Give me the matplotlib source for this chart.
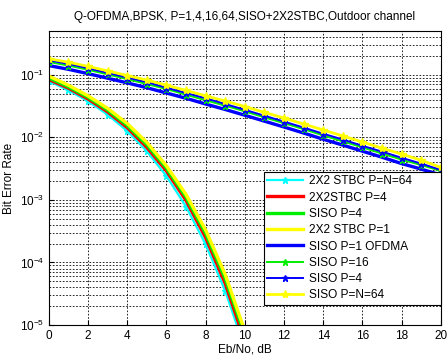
import matplotlib
matplotlib.use('Agg')
import matplotlib.pyplot as plt

plt.rcParams['font.family'] = ['Liberation Sans', 'DejaVu Sans']

# Eb/No axes
snr_low = [0, 1, 2, 3, 4, 5, 6, 7, 8, 9, 10]
snr_high = list(range(0, 21))

# lower group (2x2 STBC and friends)
stbc_p64 = [0.079, 0.0565, 0.0377, 0.0230, 0.0126, 0.0060, 0.00240, 0.00078, 0.000195, 3.5e-5, 4.2e-6]
stbc_p4 = [0.084, 0.061, 0.041, 0.0255, 0.0143, 0.0069, 0.0029, 0.00098, 0.00025, 4.6e-5, 5.5e-6]
siso_p4_thick = [0.089, 0.064, 0.0435, 0.0272, 0.0154, 0.0076, 0.0032, 0.00110, 0.00029, 5.5e-5, 6.8e-6]
stbc_p1 = [0.095, 0.068, 0.046, 0.029, 0.0166, 0.0083, 0.0035, 0.00122, 0.00033, 6.4e-5, 8.0e-6]

# upper group (SISO)
siso_p1_ofdma = [0.140, 0.122, 0.104, 0.088, 0.074, 0.062, 0.051, 0.042, 0.034, 0.0278, 0.0225,
                 0.0181, 0.0146, 0.0117, 0.0093, 0.0075, 0.0060, 0.0048, 0.0038, 0.0031, 0.0025]
siso_p16 = [0.160, 0.140, 0.120, 0.101, 0.085, 0.071, 0.059, 0.048, 0.039, 0.032, 0.026,
            0.0208, 0.0168, 0.0135, 0.0107, 0.0086, 0.0069, 0.0055, 0.0044, 0.0036, 0.0029]
siso_p4 = [0.170, 0.149, 0.127, 0.107, 0.090, 0.076, 0.062, 0.051, 0.042, 0.034, 0.0275,
           0.0221, 0.0178, 0.0143, 0.0114, 0.0092, 0.0073, 0.0059, 0.0047, 0.0038, 0.0030]
siso_p64 = [0.180, 0.158, 0.136, 0.115, 0.097, 0.082, 0.068, 0.056, 0.046, 0.038, 0.031,
            0.025, 0.0203, 0.0163, 0.0131, 0.0105, 0.0084, 0.0067, 0.0054, 0.0043, 0.0033]

fig = plt.figure(figsize=(4.48, 3.56), dpi=100)
ax = fig.add_axes([0.109, 0.087, 0.875, 0.826])

ax.semilogy(snr_low, stbc_p64, color='cyan', lw=1.6, marker='*', ms=5, label='2X2 STBC P=N=64')
ax.semilogy(snr_low, stbc_p4, color='red', lw=2.4, label='2X2STBC P=4')
ax.semilogy(snr_low, siso_p4_thick, color='#00ee00', lw=2.4, label='SISO P=4')
ax.semilogy(snr_low, stbc_p1, color='yellow', lw=2.4, label='2X2 STBC P=1')
ax.semilogy(snr_high, siso_p1_ofdma, color='blue', lw=2.4, label='SISO P=1 OFDMA')
ax.semilogy(snr_high, siso_p16, color='#00ee00', lw=1.4, marker='*', ms=5, label='SISO P=16')
ax.semilogy(snr_high, siso_p4, color='blue', lw=1.4, marker='*', ms=5, label='SISO P=4')
ax.semilogy(snr_high, siso_p64, color='yellow', lw=2.0, marker='*', ms=6, label='SISO P=N=64')

ax.set_xlim(0, 20)
ax.set_ylim(1e-5, 0.5)
ax.set_xticks(range(0, 21, 2))
ax.tick_params(which='both', direction='in', labelsize=8.5)
ax.tick_params(which='minor', left=False)
ax.grid(True, which='major', color='black', linestyle=(0, (2, 2)), lw=0.6)
ax.grid(True, which='minor', axis='y', color='black', linestyle=(0, (2, 2)), lw=0.6)

ax.set_title('Q-OFDMA,BPSK, P=1,4,16,64,SISO+2X2STBC,Outdoor channel', fontsize=8.5, pad=8)
ax.set_xlabel('Eb/No, dB', fontsize=8.5, labelpad=1)
ax.set_ylabel('Bit Error Rate', fontsize=8.5, labelpad=3)

leg = ax.legend(loc='lower left', bbox_to_anchor=(0.548, 0.068, 0.452, 0.45), mode='expand',
                fontsize=8.6, fancybox=False, framealpha=1, edgecolor='black',
                borderaxespad=0, labelspacing=0.36, handlelength=3.0,
                borderpad=0.3, handletextpad=0.5)
leg.get_frame().set_linewidth(0.8)

fig.savefig('out.png', dpi=100)
